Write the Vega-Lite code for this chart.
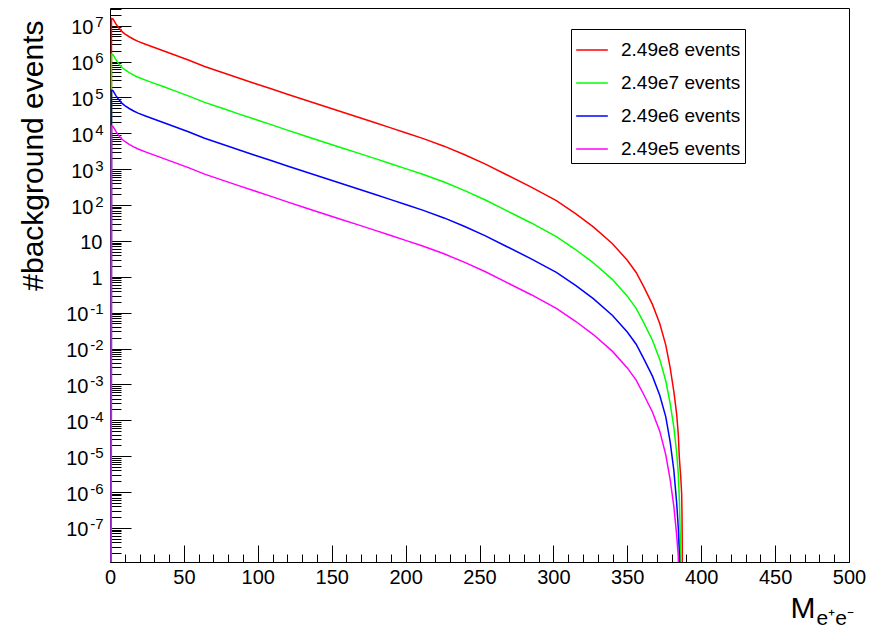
{
  "$schema": "https://vega.github.io/schema/vega-lite/v6.json",
  "width": 739,
  "height": 554,
  "autosize": {"type": "none"},
  "padding": {"left": 110, "top": 8, "right": 30, "bottom": 66},
  "background": "white",
  "config": {
    "view": {"stroke": "#000", "strokeWidth": 1},
    "font": "Liberation Sans",
    "axis": {"domain": false, "grid": false, "labelFont": "Liberation Sans", "labelFontSize": 20, "labelColor": "#000", "tickColor": "#000", "tickWidth": 1, "titleFont": "Liberation Sans", "titleFontWeight": "normal", "titleColor": "#000", "labelFlush": false, "labelOverlap": false, "labelBound": false}
  },
  "data": {"values": [
    {"s":"2.49e8 events","m":0.8,"n":1e-10},
    {"s":"2.49e8 events","m":1,"n":1.585e7},
    {"s":"2.49e8 events","m":2,"n":1.549e7},
    {"s":"2.49e8 events","m":3,"n":1.318e7},
    {"s":"2.49e8 events","m":4,"n":1.122e7},
    {"s":"2.49e8 events","m":5,"n":9.77e6},
    {"s":"2.49e8 events","m":6.5,"n":8.13e6},
    {"s":"2.49e8 events","m":8,"n":6.92e6},
    {"s":"2.49e8 events","m":10,"n":5.89e6},
    {"s":"2.49e8 events","m":13,"n":4.9e6},
    {"s":"2.49e8 events","m":16,"n":4.17e6},
    {"s":"2.49e8 events","m":19,"n":3.63e6},
    {"s":"2.49e8 events","m":24,"n":3.02e6},
    {"s":"2.49e8 events","m":30,"n":2.45e6},
    {"s":"2.49e8 events","m":36,"n":2.0e6},
    {"s":"2.49e8 events","m":42,"n":1.62e6},
    {"s":"2.49e8 events","m":53,"n":1.1e6},
    {"s":"2.49e8 events","m":64,"n":7.24e5},
    {"s":"2.49e8 events","m":76,"n":4.95e5},
    {"s":"2.49e8 events","m":87,"n":3.47e5},
    {"s":"2.49e8 events","m":98,"n":2.45e5},
    {"s":"2.49e8 events","m":109,"n":1.74e5},
    {"s":"2.49e8 events","m":120,"n":1.22e5},
    {"s":"2.49e8 events","m":132,"n":8.41e4},
    {"s":"2.49e8 events","m":144,"n":5.82e4},
    {"s":"2.49e8 events","m":156,"n":4.03e4},
    {"s":"2.49e8 events","m":168,"n":2.79e4},
    {"s":"2.49e8 events","m":180,"n":1.93e4},
    {"s":"2.49e8 events","m":190,"n":1.41e4},
    {"s":"2.49e8 events","m":200,"n":1.035e4},
    {"s":"2.49e8 events","m":212,"n":7080},
    {"s":"2.49e8 events","m":226,"n":4365},
    {"s":"2.49e8 events","m":240,"n":2512},
    {"s":"2.49e8 events","m":254,"n":1380},
    {"s":"2.49e8 events","m":268,"n":708},
    {"s":"2.49e8 events","m":285,"n":316},
    {"s":"2.49e8 events","m":302,"n":132},
    {"s":"2.49e8 events","m":315,"n":57.5},
    {"s":"2.49e8 events","m":327,"n":24.5},
    {"s":"2.49e8 events","m":340,"n":8.32},
    {"s":"2.49e8 events","m":350,"n":2.88},
    {"s":"2.49e8 events","m":356,"n":1.32},
    {"s":"2.49e8 events","m":361,"n":0.537},
    {"s":"2.49e8 events","m":367,"n":0.17},
    {"s":"2.49e8 events","m":372,"n":0.049},
    {"s":"2.49e8 events","m":376,"n":0.0126},
    {"s":"2.49e8 events","m":379,"n":0.00295},
    {"s":"2.49e8 events","m":381.5,"n":6.3e-4},
    {"s":"2.49e8 events","m":383.4,"n":1.48e-4},
    {"s":"2.49e8 events","m":384.5,"n":4e-5},
    {"s":"2.49e8 events","m":385.2,"n":9.1e-6},
    {"s":"2.49e8 events","m":386.2,"n":2.5e-6},
    {"s":"2.49e8 events","m":386.8,"n":8.7e-7},
    {"s":"2.49e8 events","m":387.0,"n":2.5e-7},
    {"s":"2.49e8 events","m":387.2,"n":3.2e-8},
    {"s":"2.49e8 events","m":387.3,"n":1e-10},

    {"s":"2.49e7 events","m":0.8,"n":1e-10},
    {"s":"2.49e7 events","m":1,"n":1.585e6},
    {"s":"2.49e7 events","m":2,"n":1.549e6},
    {"s":"2.49e7 events","m":3,"n":1.318e6},
    {"s":"2.49e7 events","m":4,"n":1.122e6},
    {"s":"2.49e7 events","m":5,"n":9.77e5},
    {"s":"2.49e7 events","m":6.5,"n":8.13e5},
    {"s":"2.49e7 events","m":8,"n":6.92e5},
    {"s":"2.49e7 events","m":10,"n":5.89e5},
    {"s":"2.49e7 events","m":13,"n":4.9e5},
    {"s":"2.49e7 events","m":16,"n":4.17e5},
    {"s":"2.49e7 events","m":19,"n":3.63e5},
    {"s":"2.49e7 events","m":24,"n":3.02e5},
    {"s":"2.49e7 events","m":30,"n":2.45e5},
    {"s":"2.49e7 events","m":36,"n":2.0e5},
    {"s":"2.49e7 events","m":42,"n":1.62e5},
    {"s":"2.49e7 events","m":53,"n":1.1e5},
    {"s":"2.49e7 events","m":64,"n":7.24e4},
    {"s":"2.49e7 events","m":76,"n":4.95e4},
    {"s":"2.49e7 events","m":87,"n":3.47e4},
    {"s":"2.49e7 events","m":98,"n":2.45e4},
    {"s":"2.49e7 events","m":109,"n":1.74e4},
    {"s":"2.49e7 events","m":120,"n":1.22e4},
    {"s":"2.49e7 events","m":132,"n":8410},
    {"s":"2.49e7 events","m":144,"n":5820},
    {"s":"2.49e7 events","m":156,"n":4030},
    {"s":"2.49e7 events","m":168,"n":2790},
    {"s":"2.49e7 events","m":180,"n":1930},
    {"s":"2.49e7 events","m":190,"n":1410},
    {"s":"2.49e7 events","m":200,"n":1035},
    {"s":"2.49e7 events","m":212,"n":708},
    {"s":"2.49e7 events","m":226,"n":436.5},
    {"s":"2.49e7 events","m":240,"n":251.2},
    {"s":"2.49e7 events","m":254,"n":138},
    {"s":"2.49e7 events","m":268,"n":70.8},
    {"s":"2.49e7 events","m":285,"n":31.6},
    {"s":"2.49e7 events","m":302,"n":13.2},
    {"s":"2.49e7 events","m":315,"n":5.75},
    {"s":"2.49e7 events","m":327,"n":2.45},
    {"s":"2.49e7 events","m":340,"n":0.832},
    {"s":"2.49e7 events","m":350,"n":0.288},
    {"s":"2.49e7 events","m":356,"n":0.132},
    {"s":"2.49e7 events","m":361,"n":0.0537},
    {"s":"2.49e7 events","m":367,"n":0.017},
    {"s":"2.49e7 events","m":372,"n":0.0049},
    {"s":"2.49e7 events","m":376,"n":1.26e-3},
    {"s":"2.49e7 events","m":379,"n":2.95e-4},
    {"s":"2.49e7 events","m":381.5,"n":6.3e-5},
    {"s":"2.49e7 events","m":383.4,"n":1.26e-5},
    {"s":"2.49e7 events","m":384.5,"n":3.2e-6},
    {"s":"2.49e7 events","m":385.3,"n":5e-7},
    {"s":"2.49e7 events","m":385.8,"n":6.3e-8},
    {"s":"2.49e7 events","m":386.1,"n":1e-10},

    {"s":"2.49e6 events","m":0.8,"n":1e-10},
    {"s":"2.49e6 events","m":1,"n":1.585e5},
    {"s":"2.49e6 events","m":2,"n":1.549e5},
    {"s":"2.49e6 events","m":3,"n":1.318e5},
    {"s":"2.49e6 events","m":4,"n":1.122e5},
    {"s":"2.49e6 events","m":5,"n":9.77e4},
    {"s":"2.49e6 events","m":6.5,"n":8.13e4},
    {"s":"2.49e6 events","m":8,"n":6.92e4},
    {"s":"2.49e6 events","m":10,"n":5.89e4},
    {"s":"2.49e6 events","m":13,"n":4.9e4},
    {"s":"2.49e6 events","m":16,"n":4.17e4},
    {"s":"2.49e6 events","m":19,"n":3.63e4},
    {"s":"2.49e6 events","m":24,"n":3.02e4},
    {"s":"2.49e6 events","m":30,"n":2.45e4},
    {"s":"2.49e6 events","m":36,"n":2.0e4},
    {"s":"2.49e6 events","m":42,"n":1.62e4},
    {"s":"2.49e6 events","m":53,"n":1.1e4},
    {"s":"2.49e6 events","m":64,"n":7240},
    {"s":"2.49e6 events","m":76,"n":4950},
    {"s":"2.49e6 events","m":87,"n":3470},
    {"s":"2.49e6 events","m":98,"n":2450},
    {"s":"2.49e6 events","m":109,"n":1740},
    {"s":"2.49e6 events","m":120,"n":1220},
    {"s":"2.49e6 events","m":132,"n":841},
    {"s":"2.49e6 events","m":144,"n":582},
    {"s":"2.49e6 events","m":156,"n":403},
    {"s":"2.49e6 events","m":168,"n":279},
    {"s":"2.49e6 events","m":180,"n":193},
    {"s":"2.49e6 events","m":190,"n":141},
    {"s":"2.49e6 events","m":200,"n":103.5},
    {"s":"2.49e6 events","m":212,"n":70.8},
    {"s":"2.49e6 events","m":226,"n":43.65},
    {"s":"2.49e6 events","m":240,"n":25.12},
    {"s":"2.49e6 events","m":254,"n":13.8},
    {"s":"2.49e6 events","m":268,"n":7.08},
    {"s":"2.49e6 events","m":285,"n":3.16},
    {"s":"2.49e6 events","m":302,"n":1.32},
    {"s":"2.49e6 events","m":315,"n":0.575},
    {"s":"2.49e6 events","m":327,"n":0.245},
    {"s":"2.49e6 events","m":340,"n":0.0832},
    {"s":"2.49e6 events","m":350,"n":0.0288},
    {"s":"2.49e6 events","m":356,"n":0.0132},
    {"s":"2.49e6 events","m":361,"n":5.3e-3},
    {"s":"2.49e6 events","m":367,"n":1.7e-3},
    {"s":"2.49e6 events","m":372,"n":4.9e-4},
    {"s":"2.49e6 events","m":376,"n":1.26e-4},
    {"s":"2.49e6 events","m":379,"n":2.5e-5},
    {"s":"2.49e6 events","m":381.5,"n":4e-6},
    {"s":"2.49e6 events","m":383.4,"n":5e-7},
    {"s":"2.49e6 events","m":384.5,"n":1e-7},
    {"s":"2.49e6 events","m":385.3,"n":1.6e-8},
    {"s":"2.49e6 events","m":385.7,"n":1e-10},

    {"s":"2.49e5 events","m":0.8,"n":1e-10},
    {"s":"2.49e5 events","m":1,"n":1.585e4},
    {"s":"2.49e5 events","m":2,"n":1.549e4},
    {"s":"2.49e5 events","m":3,"n":1.318e4},
    {"s":"2.49e5 events","m":4,"n":1.122e4},
    {"s":"2.49e5 events","m":5,"n":9770},
    {"s":"2.49e5 events","m":6.5,"n":8130},
    {"s":"2.49e5 events","m":8,"n":6920},
    {"s":"2.49e5 events","m":10,"n":5890},
    {"s":"2.49e5 events","m":13,"n":4900},
    {"s":"2.49e5 events","m":16,"n":4170},
    {"s":"2.49e5 events","m":19,"n":3630},
    {"s":"2.49e5 events","m":24,"n":3020},
    {"s":"2.49e5 events","m":30,"n":2450},
    {"s":"2.49e5 events","m":36,"n":2000},
    {"s":"2.49e5 events","m":42,"n":1620},
    {"s":"2.49e5 events","m":53,"n":1100},
    {"s":"2.49e5 events","m":64,"n":724},
    {"s":"2.49e5 events","m":76,"n":495},
    {"s":"2.49e5 events","m":87,"n":347},
    {"s":"2.49e5 events","m":98,"n":245},
    {"s":"2.49e5 events","m":109,"n":174},
    {"s":"2.49e5 events","m":120,"n":122},
    {"s":"2.49e5 events","m":132,"n":84.1},
    {"s":"2.49e5 events","m":144,"n":58.2},
    {"s":"2.49e5 events","m":156,"n":40.3},
    {"s":"2.49e5 events","m":168,"n":27.9},
    {"s":"2.49e5 events","m":180,"n":19.3},
    {"s":"2.49e5 events","m":190,"n":14.1},
    {"s":"2.49e5 events","m":200,"n":10.35},
    {"s":"2.49e5 events","m":212,"n":7.08},
    {"s":"2.49e5 events","m":226,"n":4.365},
    {"s":"2.49e5 events","m":240,"n":2.512},
    {"s":"2.49e5 events","m":254,"n":1.38},
    {"s":"2.49e5 events","m":268,"n":0.708},
    {"s":"2.49e5 events","m":285,"n":0.316},
    {"s":"2.49e5 events","m":302,"n":0.132},
    {"s":"2.49e5 events","m":315,"n":0.0575},
    {"s":"2.49e5 events","m":327,"n":0.0245},
    {"s":"2.49e5 events","m":340,"n":0.00832},
    {"s":"2.49e5 events","m":350,"n":0.00288},
    {"s":"2.49e5 events","m":356,"n":0.00132},
    {"s":"2.49e5 events","m":361,"n":5.3e-4},
    {"s":"2.49e5 events","m":367,"n":1.7e-4},
    {"s":"2.49e5 events","m":372,"n":4.9e-5},
    {"s":"2.49e5 events","m":376,"n":1.1e-5},
    {"s":"2.49e5 events","m":379,"n":2.2e-6},
    {"s":"2.49e5 events","m":381.5,"n":4e-7},
    {"s":"2.49e5 events","m":383.4,"n":6.3e-8},
    {"s":"2.49e5 events","m":384.5,"n":1.6e-8},
    {"s":"2.49e5 events","m":385.0,"n":1e-10}
  ]},
  "layer": [
    {
      "mark": {"type": "line", "strokeWidth": 1.5, "clip": true},
      "encoding": {
        "x": {"field": "m", "type": "quantitative", "scale": {"domain": [0, 500], "nice": false},
          "axis": {"orient": "bottom", "values": [0,50,100,150,200,250,300,350,400,450,500], "ticks": false, "labelPadding": 5,
            "title": "M", "titleFontSize": 30, "titleX": 705, "titleY": 55, "titleAlign": "right", "titleBaseline": "alphabetic", "titleAnchor": null}},
        "y": {"field": "n", "type": "quantitative", "scale": {"type": "log", "domain": [1.12e-8, 3.1e7], "nice": false},
          "axis": {"orient": "left", "values": [1, 10], "ticks": false, "labelPadding": 8, "labelOffset": 2,
            "labelExpr": "datum.value < 5 ? '1' : '10'",
            "title": "#background events", "titleFontSize": 30, "titleAngle": 270, "titleX": -68, "titleY": 12, "titleAlign": "right", "titleBaseline": "alphabetic", "titleAnchor": null}},
        "color": {"field": "s", "type": "nominal",
          "scale": {"domain": ["2.49e8 events","2.49e7 events","2.49e6 events","2.49e5 events"], "range": ["#ff0000","#00ff00","#0000ff","#ff00ff"]},
          "legend": {"orient": "none", "legendX": 461, "legendY": 21, "title": null, "symbolType": "stroke", "symbolSize": 1000, "symbolStrokeWidth": 1.5,
            "labelFont": "Liberation Sans", "labelFontSize": 19, "labelColor": "#000", "labelOffset": 12, "padding": 4, "rowPadding": 6,
            "strokeColor": "#000", "fillColor": "#fff", "labelLimit": 300}}
      }
    },
    {
      "mark": {"type": "line", "opacity": 0},
      "encoding": {
        "x": {"field": "m", "type": "quantitative", "scale": {"domain": [0, 500], "nice": false},
          "axis": {"orient": "bottom", "values": [0,50,100,150,200,250,300,350,400,450,500], "labels": false, "tickSize": -17, "title": null}},
        "y": {"field": "n", "type": "quantitative", "scale": {"type": "log", "domain": [1.12e-8, 3.1e7], "nice": false},
          "axis": {"orient": "left", "values": [1e-7,1e-6,1e-5,1e-4,1e-3,1e-2,1e-1,1,10,100,1000,1e4,1e5,1e6,1e7], "labels": false, "tickSize": -21, "title": null}}
      }
    },
    {
      "mark": {"type": "line", "opacity": 0},
      "encoding": {
        "x": {"field": "m", "type": "quantitative", "scale": {"domain": [0, 500], "nice": false},
          "axis": {"orient": "bottom", "values": [10,20,30,40,60,70,80,90,110,120,130,140,160,170,180,190,210,220,230,240,260,270,280,290,310,320,330,340,360,370,380,390,410,420,430,440,460,470,480,490], "labels": false, "tickSize": -8,
            "title": "e⁺e⁻", "titleFontSize": 21, "titleX": 706, "titleY": 62, "titleAlign": "left", "titleBaseline": "alphabetic", "titleAnchor": null}},
        "y": {"field": "n", "type": "quantitative", "scale": {"type": "log", "domain": [1.12e-8, 3.1e7], "nice": false},
          "axis": {"orient": "left", "labels": false, "tickSize": -11, "title": null,
            "values": [2e-8,3e-8,4e-8,5e-8,6e-8,7e-8,8e-8,9e-8,2e-7,3e-7,4e-7,5e-7,6e-7,7e-7,8e-7,9e-7,2e-6,3e-6,4e-6,5e-6,6e-6,7e-6,8e-6,9e-6,2e-5,3e-5,4e-5,5e-5,6e-5,7e-5,8e-5,9e-5,2e-4,3e-4,4e-4,5e-4,6e-4,7e-4,8e-4,9e-4,0.002,0.003,0.004,0.005,0.006,0.007,0.008,0.009,0.02,0.03,0.04,0.05,0.06,0.07,0.08,0.09,0.2,0.3,0.4,0.5,0.6,0.7,0.8,0.9,2,3,4,5,6,7,8,9,20,30,40,50,60,70,80,90,200,300,400,500,600,700,800,900,2000,3000,4000,5000,6000,7000,8000,9000,2e4,3e4,4e4,5e4,6e4,7e4,8e4,9e4,2e5,3e5,4e5,5e5,6e5,7e5,8e5,9e5,2e6,3e6,4e6,5e6,6e6,7e6,8e6,9e6,2e7,3e7]}}
      }
    },
    {
      "mark": {"type": "line", "opacity": 0},
      "encoding": {
        "x": {"field": "m", "type": "quantitative", "scale": {"domain": [0, 500], "nice": false}, "axis": null},
        "y": {"field": "n", "type": "quantitative", "scale": {"type": "log", "domain": [1.12e-8, 3.1e7], "nice": false},
          "axis": {"orient": "left", "values": [1e-7,1e-6,1e-5,1e-4,1e-3,1e-2,1e-1,100,1000,1e4,1e5,1e6,1e7], "ticks": false, "title": null,
            "labelFontSize": 15, "labelPadding": 7, "labelOffset": -4, "labelAlign": "right",
            "labelExpr": "'' + round(log(datum.value)/LN10)"}}
      }
    },
    {
      "mark": {"type": "line", "opacity": 0},
      "encoding": {
        "x": {"field": "m", "type": "quantitative", "scale": {"domain": [0, 500], "nice": false}, "axis": null},
        "y": {"field": "n", "type": "quantitative", "scale": {"type": "log", "domain": [1.12e-8, 3.1e7], "nice": false},
          "axis": {"orient": "left", "values": [100,1000,1e4,1e5,1e6,1e7], "ticks": false, "title": null,
            "labelPadding": 17, "labelOffset": 2, "labelAlign": "right", "labelExpr": "'10'"}}
      }
    },
    {
      "mark": {"type": "line", "opacity": 0},
      "encoding": {
        "x": {"field": "m", "type": "quantitative", "scale": {"domain": [0, 500], "nice": false}, "axis": null},
        "y": {"field": "n", "type": "quantitative", "scale": {"type": "log", "domain": [1.12e-8, 3.1e7], "nice": false},
          "axis": {"orient": "left", "values": [1e-7,1e-6,1e-5,1e-4,1e-3,1e-2,1e-1], "ticks": false, "title": null,
            "labelPadding": 22, "labelOffset": 2, "labelAlign": "right", "labelExpr": "'10'"}}
      }
    }
  ],
  "resolve": {"axis": {"x": "independent", "y": "independent"}}
}
